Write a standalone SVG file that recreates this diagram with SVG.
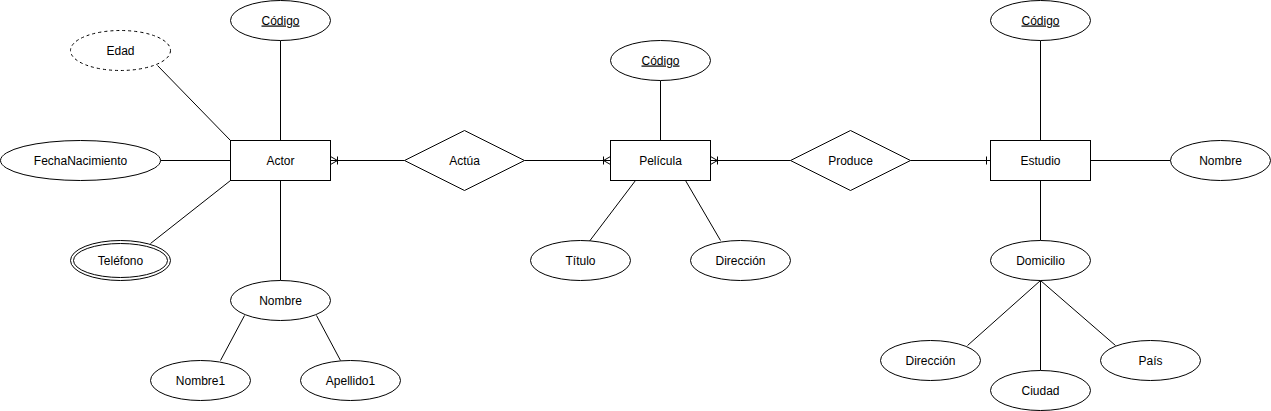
<svg xmlns="http://www.w3.org/2000/svg" width="1271" height="411" viewBox="0 0 1271 411">
<style>
.s{fill:#fff;stroke:#000;stroke-width:1}
.d{fill:#fff;stroke:#000;stroke-width:1;stroke-dasharray:3 3}
.l{fill:none;stroke:#000;stroke-width:1}
text{font-family:"Liberation Sans",Arial,Helvetica,sans-serif;font-size:12px;fill:#000;text-anchor:middle}
.u{text-decoration:underline}
</style>
<rect width="1271" height="411" fill="#fff"/>
<g transform="translate(0.5,0.5)">
<g id="connectors">
<path class="l" d="M157,65 L230,140"/>
<path class="l" d="M160,160 L230,160"/>
<path class="l" d="M150,243 L230,180"/>
<path class="l" d="M280,40 L280,140"/>
<path class="l" d="M280,180 L280,280"/>
<path class="l" d="M244,315 L220,360"/>
<path class="l" d="M316,315 L340,360"/>
<path class="l" d="M330,160 L404,160"/>
<path class="l" d="M330,156 L337,160 L330,164 M337,156 L337,164"/>
<path class="l" d="M524,160 L610,160"/>
<path class="l" d="M610,156 L603,160 L610,164 M603,156 L603,164"/>
<path class="l" d="M660,80 L660,140"/>
<path class="l" d="M635,180 L588,242"/>
<path class="l" d="M685,180 L720,240"/>
<path class="l" d="M710,160 L790,160"/>
<path class="l" d="M710,156 L717,160 L710,164 M717,156 L717,164"/>
<path class="l" d="M910,160 L990,160"/>
<path class="l" d="M986,156 L986,164"/>
<path class="l" d="M1040,40 L1040,140"/>
<path class="l" d="M1090,160 L1170,160"/>
<path class="l" d="M1040,180 L1040,240"/>
<path class="l" d="M1040,280 L967,345"/>
<path class="l" d="M1040,280 L1040,370"/>
<path class="l" d="M1040,280 L1115,345"/>
</g>
<g id="actor"><rect class="s" x="230" y="140" width="100" height="40"/><text x="280" y="164">Actor</text></g>
<g id="actor-codigo"><ellipse class="s" cx="280" cy="20" rx="50" ry="20"/><text class="u" x="280" y="24">Código</text></g>
<g id="actor-edad"><ellipse class="d" cx="120" cy="50" rx="50" ry="20"/><text x="120" y="54">Edad</text></g>
<g id="actor-fecha"><ellipse class="s" cx="80" cy="160" rx="80" ry="20"/><text x="80" y="164">FechaNacimiento</text></g>
<g id="actor-telefono"><ellipse class="s" cx="120" cy="260" rx="50" ry="20"/><ellipse class="s" cx="120" cy="260" rx="47" ry="17"/><text x="120" y="264">Teléfono</text></g>
<g id="actor-nombre"><ellipse class="s" cx="280" cy="300" rx="50" ry="20"/><text x="280" y="304">Nombre</text></g>
<g id="actor-nombre1"><ellipse class="s" cx="200" cy="380" rx="50" ry="20"/><text x="200" y="384">Nombre1</text></g>
<g id="actor-apellido1"><ellipse class="s" cx="350" cy="380" rx="50" ry="20"/><text x="350" y="384">Apellido1</text></g>
<g id="actua"><path class="s" d="M404,160 L464,130 L524,160 L464,190 Z"/><text x="464" y="164">Actúa</text></g>
<g id="pelicula"><rect class="s" x="610" y="140" width="100" height="40"/><text x="660" y="164">Película</text></g>
<g id="pelicula-codigo"><ellipse class="s" cx="660" cy="60" rx="50" ry="20"/><text class="u" x="660" y="64">Código</text></g>
<g id="pelicula-titulo"><ellipse class="s" cx="580" cy="260" rx="50" ry="20"/><text x="580" y="264">Título</text></g>
<g id="pelicula-direccion"><ellipse class="s" cx="740" cy="260" rx="50" ry="20"/><text x="740" y="264">Dirección</text></g>
<g id="produce"><path class="s" d="M790,160 L850,130 L910,160 L850,190 Z"/><text x="850" y="164">Produce</text></g>
<g id="estudio"><rect class="s" x="990" y="140" width="100" height="40"/><text x="1040" y="164">Estudio</text></g>
<g id="estudio-codigo"><ellipse class="s" cx="1040" cy="20" rx="50" ry="20"/><text class="u" x="1040" y="24">Código</text></g>
<g id="estudio-nombre"><ellipse class="s" cx="1220" cy="160" rx="50" ry="20"/><text x="1220" y="164">Nombre</text></g>
<g id="estudio-domicilio"><ellipse class="s" cx="1040" cy="260" rx="50" ry="20"/><text x="1040" y="264">Domicilio</text></g>
<g id="domicilio-direccion"><ellipse class="s" cx="930" cy="360" rx="50" ry="20"/><text x="930" y="364">Dirección</text></g>
<g id="domicilio-ciudad"><ellipse class="s" cx="1040" cy="390" rx="50" ry="20"/><text x="1040" y="394">Ciudad</text></g>
<g id="domicilio-pais"><ellipse class="s" cx="1150" cy="360" rx="50" ry="20"/><text x="1150" y="364">País</text></g>
</g>
</svg>
